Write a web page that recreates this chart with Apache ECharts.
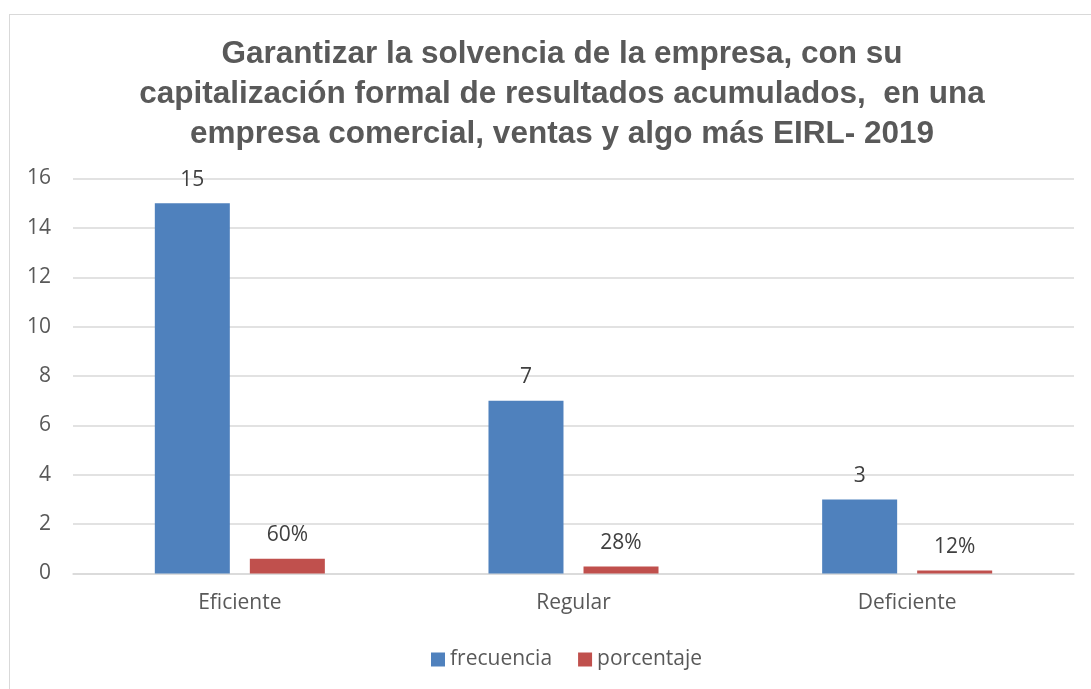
<!DOCTYPE html>
<html>
<head>
<meta charset="utf-8">
<script src="https://cdn.jsdelivr.net/npm/echarts@6/dist/echarts.min.js"></script>
<style>
  html, body {margin: 0; padding: 0; background: #fff;}
  #chart {width: 1091px; height: 689px;}
  .frame {position: absolute; left: 9px; top: 14px; width: 1100px; height: 700px; border: 1.5px solid #d9d9d9; pointer-events: none;}
</style>
</head>
<body>
<div id="chart"></div>
<div class="frame"></div>
<script>
// chart data
const categories = ['Eficiente', 'Regular', 'Deficiente'];
const frecuencia = [15, 7, 3];
const porcentaje = [0.6, 0.28, 0.12];
const porcentajeLabels = ['60%', '28%', '12%'];
const yTicks = {min: 0, max: 16, interval: 2};

const titleText = 'Garantizar la solvencia de la empresa, con su\ncapitalización formal de resultados acumulados,  en una\nempresa comercial, ventas y algo más EIRL- 2019';

const textColor = '#595959';
const labelFont = 'Open Sans';
const labelSize = 21;

const chart = echarts.init(document.getElementById('chart'));

chart.setOption({
    animation: false,
    title: {
        text: titleText,
        left: 557,
        top: 29,
        textAlign: 'center',
        textStyle: {
            fontFamily: 'Liberation Sans',
            fontWeight: 'bold',
            fontSize: 31.5,
            lineHeight: 40,
            color: textColor
        }
    },
    legend: {
        data: ['frecuencia', 'porcentaje'],
        bottom: 14,
        left: 426,
        itemWidth: 14,
        itemHeight: 14,
        itemGap: 26,
        icon: 'rect',
        textStyle: {fontFamily: labelFont, fontSize: labelSize, color: textColor}
    },
    grid: {
        left: 73, right: 17, top: 178.5, bottom: 115.5,
        containLabel: false
    },
    xAxis: {
        type: 'category',
        data: categories,
        axisLine: {lineStyle: {color: '#d9d9d9', width: 1.5}},
        axisTick: {show: false},
        axisLabel: {fontFamily: labelFont, fontSize: labelSize, color: textColor, margin: 19}
    },
    yAxis: {
        type: 'value',
        min: yTicks.min,
        max: yTicks.max,
        interval: yTicks.interval,
        axisLine: {show: false},
        axisTick: {show: false},
        splitLine: {lineStyle: {color: '#d9d9d9', width: 1.5}},
        axisLabel: {fontFamily: labelFont, fontSize: labelSize, color: textColor, margin: 22}
    },
    series: [
        {
            name: 'frecuencia',
            type: 'bar',
            data: frecuencia,
            barWidth: 75,
            barGap: '26.7%',
            itemStyle: {color: '#4f81bd'},
            label: {
                show: true, position: 'top', distance: 13,
                fontFamily: labelFont, fontSize: labelSize, color: '#404040'
            }
        },
        {
            name: 'porcentaje',
            type: 'bar',
            data: porcentaje,
            barWidth: 75,
            itemStyle: {color: '#c0504d'},
            label: {
                show: true, position: 'top', distance: 13,
                fontFamily: labelFont, fontSize: labelSize, color: '#404040',
                formatter: p => porcentajeLabels[p.dataIndex]
            }
        }
    ]
});
</script>
</body>
</html>
